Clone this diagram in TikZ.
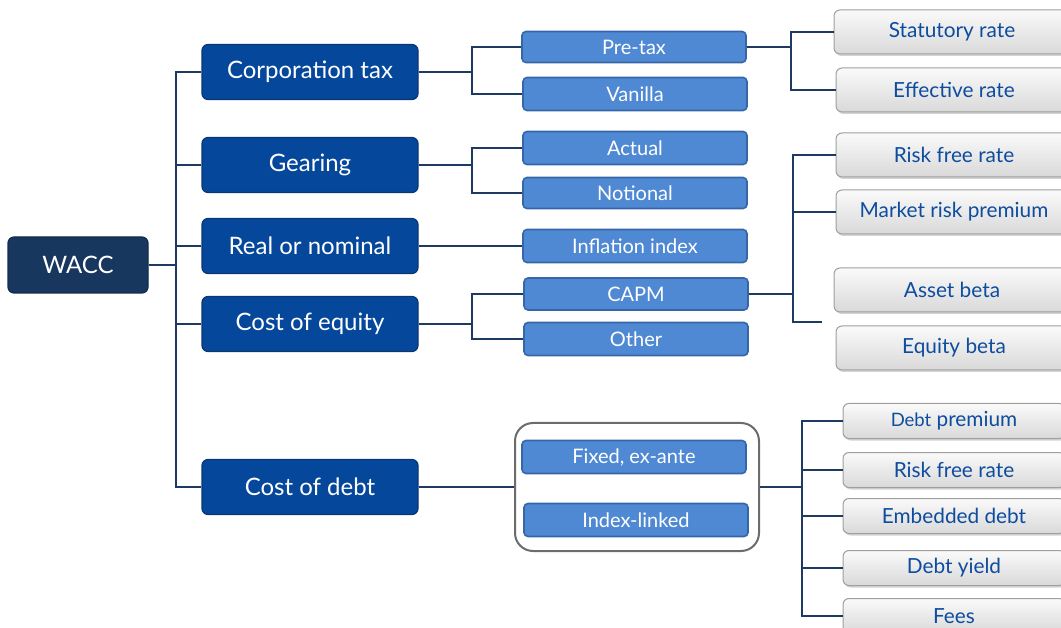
\documentclass[tikz,border=0pt]{standalone}
\usepackage{fontspec}
\setmainfont{Lato}
\usepackage{xcolor}
\usetikzlibrary{positioning,calc,shadows}
\definecolor{waccnavy}{HTML}{17375E}
\definecolor{topicblue}{HTML}{05489B}
\definecolor{topicedge}{HTML}{0A3672}
\definecolor{optblue}{HTML}{4F89D3}
\definecolor{optedge}{HTML}{3566A8}
\definecolor{itemtext}{HTML}{0E4C9E}
\definecolor{linkcol}{HTML}{1F3A62}
\tikzset{
  rootbox/.style={draw=waccnavy!80!black, line width=1.2pt, rounded corners=6pt, fill=waccnavy, text=white, align=center, minimum width=140pt, minimum height=56pt, font=\fontsize{24}{27}\selectfont},
  topicbox/.style={draw=topicedge, line width=1.2pt, rounded corners=6pt, fill=topicblue, text=white, align=center, minimum width=216pt, minimum height=55pt, font=\fontsize{24}{27}\selectfont},
  optbox/.style={draw=optedge, line width=1.6pt, rounded corners=4pt, fill=optblue, text=white, align=center, minimum width=224pt, minimum height=33pt, font=\fontsize{20}{23}\selectfont},
  itembox/.style={draw=gray!75, line width=1pt, rounded corners=6pt, top color=gray!4, bottom color=gray!30, text=itemtext, align=center, minimum width=236pt, minimum height=44pt, font=\fontsize{20.8}{24}\selectfont, drop shadow={opacity=0.35, shadow xshift=1.5pt, shadow yshift=-2pt}},
  debtbox/.style={itembox, minimum width=222pt, minimum height=35pt},
  groupbox/.style={draw=gray!85!black, line width=2pt, rounded corners=18pt, fill=white, minimum width=244pt, minimum height=128pt},
  link/.style={draw=linkcol, line width=1.8pt}
}

\begin{document}
\begin{tikzpicture}[x=1pt, y=-1pt]
  \useasboundingbox (0,0) rectangle (1061,628);
  % root and the five topics
  \node[rootbox] (wacc) at (78,265) {WACC};
  \node[topicbox] (ct) at (310,72) {Corporation tax};
  \node[topicbox] (gear) at (310,165) {Gearing};
  \node[topicbox] (rn) at (310,246) {Real or nominal};
  \node[topicbox] (coe) at (310,324) {Cost of equity};
  \node[topicbox] (cod) at (310,487) {Cost of debt};
  % options
  \node[optbox, minimum height=31pt] (pretax) at (634,47) {Pre-tax};
  \node[optbox] (vanilla) at (635,94) {Vanilla};
  \node[optbox] (actual) at (635,148) {Actual};
  \node[optbox, minimum height=31pt] (notional) at (635,193) {Notional};
  \node[optbox] (infl) at (635,246) {Inflation index};
  \node[optbox, minimum height=32pt] (capm) at (636,294) {CAPM};
  \node[optbox] (other) at (636,339) {Other};
  \node[groupbox] (grp) at (637,487) {};
  \node[optbox] (fixed) at (634,457) {Fixed, ex-ante};
  \node[optbox] (index) at (636,520) {Index-linked};
  % details
  \node[itembox] (stat) at (952,32) {Statutory rate};
  \node[itembox] (eff) at (954,90) {Effective rate};
  \node[itembox] (rfr) at (954,155) {Risk free rate};
  \node[itembox] (mrp) at (954,212) {Market risk premium};
  \node[itembox] (ab) at (952,290) {Asset beta};
  \node[itembox] (eb) at (954,348) {Equity beta};
  \node[debtbox] (dp) at (954,421) {{\fontsize{18.5}{22}\selectfont Debt} premium};
  \node[debtbox] (rfrd) at (954,470) {Risk free rate};
  \node[debtbox] (emb) at (954,516) {Embedded debt};
  \node[debtbox] (dy) at (954,568) {Debt yield};
  \node[debtbox] (fees) at (954,616) {Fees};
  \coordinate (capmend) at (822,322);

  % trunk
  \foreach \t in {ct,gear,rn,coe,cod}
    \draw[link] (wacc.east) -- ++(27,0) |- (\t.west);
  % topic to options
  \draw[link] (ct.east) -- ++(53,0) |- (pretax.west);
  \draw[link] (ct.east) -- ++(53,0) |- (vanilla.west);
  \draw[link] (gear.east) -- ++(53,0) |- (actual.west);
  \draw[link] (gear.east) -- ++(53,0) |- (notional.west);
  \draw[link] (rn.east) -- (infl.west);
  \draw[link] (coe.east) -- ++(53,0) |- (capm.west);
  \draw[link] (coe.east) -- ++(53,0) |- (other.west);
  \draw[link] (cod.east) -- (grp.west);
  % options to details
  \draw[link] (pretax.east) -- ++(44,0) |- (stat.west);
  \draw[link] (pretax.east) -- ++(44,0) |- (eff.west);
  \draw[link] (capm.east) -- ++(44,0) |- (rfr.west);
  \draw[link] (capm.east) -- ++(44,0) |- (mrp.west);
  \draw[link] (capm.east) -- ++(44,0) |- (capmend);
  \foreach \d in {dp,rfrd,emb,dy,fees}
    \draw[link] (grp.east) -- ++(42,0) |- (\d.west);
\end{tikzpicture}
\end{document}
